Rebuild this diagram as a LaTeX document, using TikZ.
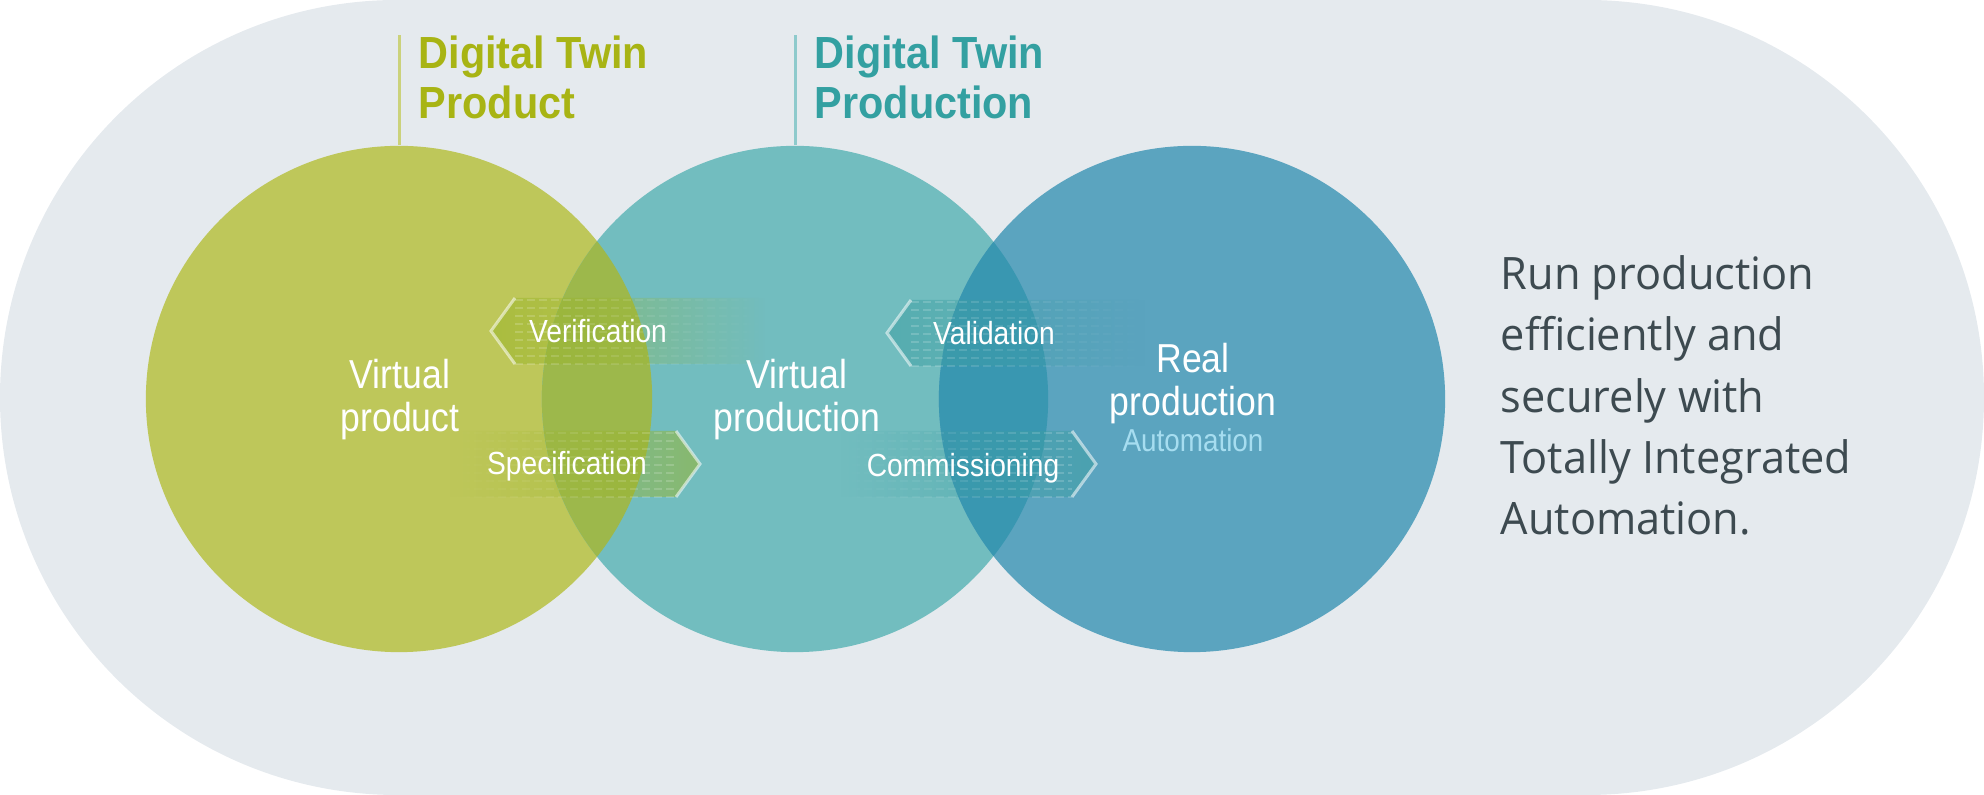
\documentclass[tikz,border=0pt]{standalone}
\usepackage{fontspec}
\setmainfont{Liberation Sans}
\newfontfamily\narrowsf[FakeStretch=0.88]{Liberation Sans}
\newfontfamily\titlesf[FakeStretch=0.92]{Liberation Sans}
\newfontfamily\claimsf[FakeStretch=0.97]{Open Sans}
\usetikzlibrary{fadings}

\definecolor{bggrey}{HTML}{E5EAEE}
\definecolor{prodgreen}{HTML}{BEC75A}
\definecolor{twinteal}{HTML}{72BDBF}
\definecolor{realblue}{HTML}{5BA4BF}
\definecolor{lensgreen}{HTML}{9DB84B}
\definecolor{lensblue}{HTML}{3997B1}
\definecolor{bandgreen}{HTML}{9AB52A}
\definecolor{bandteal}{HTML}{3E9FA3}
\definecolor{titlegreen}{HTML}{A8B414}
\definecolor{titleteal}{HTML}{33A0A1}
\definecolor{claimgrey}{HTML}{3D4A50}
\definecolor{autoblue}{HTML}{A6DDF0}

\tikzset{
    disc/.style={circle, fill=#1, inner sep=0pt, minimum size=5.06cm},
    disclabel/.style={text=white, align=center, inner sep=0pt, anchor=north,
        font=\narrowsf\fontsize{11.5}{12}\selectfont},
    bandlabel/.style={text=white, inner sep=0pt, anchor=base,
        font=\narrowsf\fontsize{9.1}{10}\selectfont},
    twintitle/.style={anchor=north west, align=left, inner sep=0pt,
        font=\titlesf\bfseries\fontsize{12.8}{14.3}\selectfont},
    band/.style={fill=#1, fill opacity=0.55},
    bandedge/.style={draw=white, draw opacity=0.55, line width=0.03cm},
    dashes/.style={white, opacity=0.18, dash pattern=on 0.08cm off 0.04cm},
}

\begin{document}
\begin{tikzpicture}[x=0.01cm, y=-0.01cm]
    \useasboundingbox (0,0) rectangle (1984,795);
    \fill[bggrey, rounded corners=3.97cm] (0,0) rectangle (1984,795);

    \node[disc=prodgreen] (cprod) at (399,399) {};
    \node[disc=twinteal] (ctwin) at (795,399) {};
    \node[disc=realblue] (creal) at (1192,399) {};
    \begin{scope}
        \clip (cprod.center) circle [radius=2.53cm];
        \fill[lensgreen] (ctwin.center) circle [radius=2.53cm];
    \end{scope}
    \begin{scope}
        \clip (ctwin.center) circle [radius=2.53cm];
        \fill[lensblue] (creal.center) circle [radius=2.53cm];
    \end{scope}

    \node[twintitle, text=titlegreen] (tprod) at (418,35) {Digital Twin\\Product};
    \node[twintitle, text=titleteal] (ttwin) at (814,35) {Digital Twin\\Production};
    \draw[prodgreen!80!white, line width=0.03cm] (cprod.north) -- (cprod.north |- tprod.north);
    \draw[twinteal!80!white, line width=0.03cm] (ctwin.north) -- (ctwin.north |- ttwin.north);

    % arrows between the twins
    \fill[band=bandgreen, path fading=east] (491,331) -- (515,298) -- (765,298) -- (765,364) -- (515,364) -- cycle;
    \fill[band=bandgreen, path fading=west] (700,464) -- (676,431) -- (450,431) -- (450,497) -- (676,497) -- cycle;
    \fill[band=bandteal, path fading=east] (887,333) -- (911,300) -- (1145,300) -- (1145,366) -- (911,366) -- cycle;
    \fill[band=bandteal, path fading=west] (1096,464) -- (1072,431) -- (840,431) -- (840,497) -- (1072,497) -- cycle;
    \draw[dashes, path fading=east] foreach \y in {0,8,...,64} {(515,300+\y) -- (765,300+\y)};
    \draw[dashes, path fading=west] foreach \y in {0,8,...,64} {(450,433+\y) -- (676,433+\y)};
    \draw[dashes, path fading=east] foreach \y in {0,8,...,64} {(911,302+\y) -- (1145,302+\y)};
    \draw[dashes, path fading=west] foreach \y in {0,8,...,64} {(840,433+\y) -- (1072,433+\y)};
    \draw[bandedge] (515,298) -- (491,331) -- (515,364);
    \draw[bandedge] (676,431) -- (700,464) -- (676,497);
    \draw[bandedge] (911,300) -- (887,333) -- (911,366);
    \draw[bandedge] (1072,431) -- (1096,464) -- (1072,497);

    \node[bandlabel] (verif) at (598,343) {Verification};
    \node[bandlabel] (spec) at (567,475) {Specification};
    \node[bandlabel] (valid) at (994,345) {Validation};
    \node[bandlabel] (comm) at (963,477) {Commissioning};

    \node[disclabel] (vprod) at (400,359) {Virtual\\product};
    \node[disclabel] (vtwin) at (797,359) {Virtual\\production};
    \node[disclabel] (rprod) at (1193,343) {Real\\production};
    \node[bandlabel, text=autoblue, font=\narrowsf\fontsize{9}{10}\selectfont] (auto) at (1193,452) {Automation};

    \node[anchor=north west, align=left, inner sep=0pt, text=claimgrey,
        font=\claimsf\fontsize{12.7}{17.4}\selectfont] (claim) at (1500,255)
        {Run production\\efficiently and\\securely with\\Totally Integrated\\Automation.};
\end{tikzpicture}
\end{document}
